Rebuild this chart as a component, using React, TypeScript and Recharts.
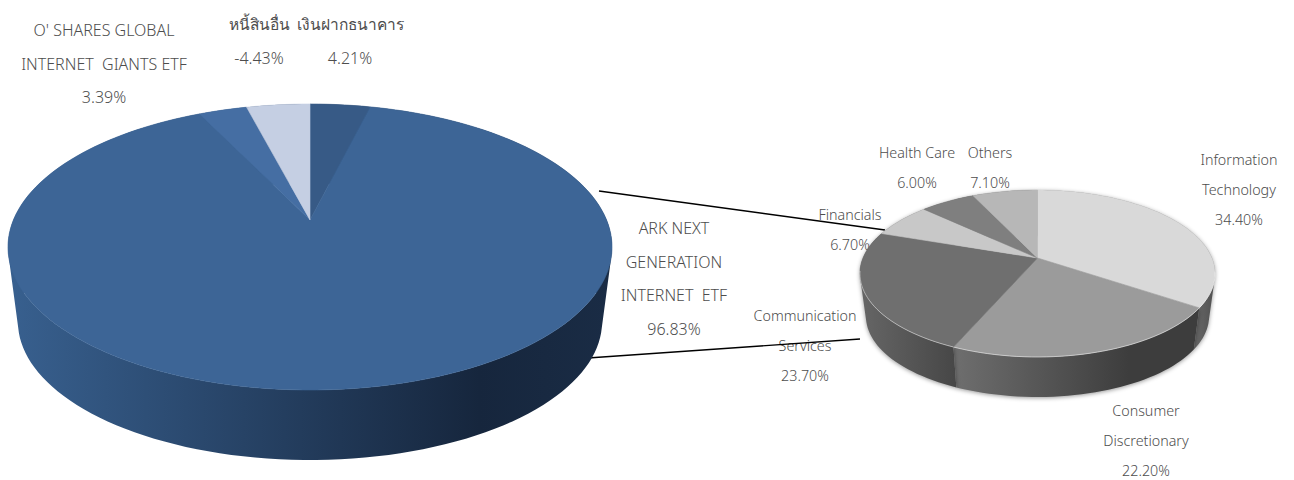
import { PieChart, Pie, Cell } from 'recharts'

// left pie, slices run clockwise from 12 o'clock
const fundNames = ['เงินฝากธนาคาร', 'ARK NEXT\nGENERATION\nINTERNET  ETF', "O' SHARES GLOBAL\nINTERNET  GIANTS ETF", 'หนี้สินอื่น']
const fundValues = [4.21, 96.83, 3.39, -4.43]

// right pie
const sectorNames = ['Information\nTechnology', 'Consumer\nDiscretionary', 'Communication\nServices', 'Financials', 'Health Care', 'Others']
const sectorValues = [34.4, 22.2, 23.7, 6.7, 6.0, 7.1]

const fundData = fundNames.map((name, i) => ({ name, value: Math.abs(fundValues[i]) }))
const sectorData = sectorNames.map((name, i) => ({ name, value: sectorValues[i] }))

const fundTop = ['#375a86', '#3d6596', '#456ea3', '#c5cfe3']
const fundWall = ['url(#fundSide)', 'url(#fundSide)', 'url(#fundSide)', 'url(#fundSide)']
const sectorTop = ['#d9d9d9', '#9b9b9b', '#6f6f6f', '#c8c8c8', '#7f7f7f', '#b7b7b7']
const sectorWall = ['url(#itSide)', 'url(#consSide)', 'url(#commSide)', '#555555', '#555555', '#555555']

// perspective of each disc: p tilts it, a/b are the half sizes at the apex
const fundGeo = { cx: 310, cy: 220, a: 296.6, b: 137.9, p: 0.1888, depth: 75.6, shrink: 0.967 }
const sectorGeo = { cx: 1037.5, cy: 258, a: 174.5, b: 80.6, p: 0.1855, depth: 43.4, shrink: 0.966 }

const fundLabels = [
  { x: 350, y: 30, gap: 34 },
  { x: 674, y: 234, gap: 33.5 },
  { x: 104, y: 36, gap: 33.5 },
  { x: 259, y: 30, gap: 34 },
]
const sectorLabels = [
  { x: 1239, y: 165, gap: 30 },
  { x: 1146, y: 416, gap: 30 },
  { x: 805, y: 321, gap: 30 },
  { x: 850, y: 220, gap: 30 },
  { x: 917, y: 158, gap: 30 },
  { x: 990, y: 158, gap: 30 },
]

type Geo = typeof fundGeo

function project(geo: Geo, deg: number, lower = false) {
  const rad = (deg * Math.PI) / 180
  const u = Math.cos(rad)
  const v = -Math.sin(rad)
  const w = 1 - geo.p * v
  const s = lower ? geo.shrink : 1
  const y0 = lower ? geo.cy + geo.depth : geo.cy
  return [geo.cx + (geo.a * s * u) / w, y0 + (geo.b * s * v) / w]
}

function arc(geo: Geo, start: number, end: number, lower = false) {
  const pts: number[][] = []
  const n = Math.max(2, Math.ceil(Math.abs(end - start) / 2))
  for (let i = 0; i <= n; i++) pts.push(project(geo, start + ((end - start) * i) / n, lower))
  return pts
}

const toPath = (pts: number[][], close = true) =>
  'M' + pts.map((p) => `${p[0].toFixed(2)},${p[1].toFixed(2)}`).join('L') + (close ? 'Z' : '')

const topShape = (geo: Geo, colors: string[], rim: boolean) => (props: any) => {
  const color = colors[props.index ?? 0]
  const outer = arc(geo, props.startAngle, props.endAngle)
  const front = outer.filter((p) => p[1] > geo.cy + 12)
  return (
    <g>
      <path d={toPath([[geo.cx, geo.cy], ...outer])} fill={color} stroke={color} strokeWidth={0.6} />
      {rim && front.length > 1 && <path d={toPath(front, false)} fill="none" stroke="rgba(255,255,255,0.45)" strokeWidth={1} />}
    </g>
  )
}

// one quad per step, all wound the same way so overlaps never cancel out
const wallShape = (geo: Geo, colors: string[], shadow: boolean) => (props: any) => {
  const up = arc(geo, props.startAngle, props.endAngle)
  const low = arc(geo, props.startAngle, props.endAngle, true)
  let d = ''
  for (let i = 0; i < up.length - 1; i++) {
    const quad = [up[i], up[i + 1], low[i + 1], low[i]]
    let area = 0
    quad.forEach((p, k) => {
      const q = quad[(k + 1) % 4]
      area += p[0] * q[1] - q[0] * p[1]
    })
    d += toPath(area < 0 ? quad.reverse() : quad)
  }
  return (
    <path
      d={d}
      fill={colors[props.index ?? 0]}
      style={shadow ? { filter: 'drop-shadow(0 1px 2px rgba(0,0,0,0.4))' } : undefined}
    />
  )
}

// Thai has no light cut here, it comes out bold at weight 300
const isThai = (s: string) => /[\u0E00-\u0E7F]/.test(s)

function Labels({ names, values, spots, size }: { names: string[]; values: number[]; spots: typeof fundLabels; size: number }) {
  return (
    <g fontFamily="'Noto Sans', sans-serif" fontSize={size} fontWeight={300} fill="#4d4d4d" textAnchor="middle">
      {names.map((name, i) => {
        const lines = [...name.split('\n'), `${values[i].toFixed(2)}%`]
        return lines.map((line, j) => (
          <text
            key={`${i}-${j}`}
            x={spots[i].x}
            y={spots[i].y + j * spots[i].gap}
            fontWeight={isThai(line) ? 400 : 300}
            fontSize={isThai(line) ? 15.5 : size}
            style={{ whiteSpace: 'pre' }}
          >
            {line}
          </text>
        ))
      })}
    </g>
  )
}

export default function App() {
  return (
    <div style={{ position: 'absolute', left: 0, top: 0, width: 1294, height: 480, background: '#fff' }}>
      <PieChart width={1294} height={480} margin={{ top: 0, right: 0, bottom: 0, left: 0 }}>
        <defs>
          <linearGradient id="fundSide" gradientUnits="userSpaceOnUse" x1="8" y1="0" x2="612" y2="0">
            <stop offset="0" stopColor="#38608f" />
            <stop offset="0.78" stopColor="#16263d" />
            <stop offset="1" stopColor="#1a2c45" />
          </linearGradient>
          <linearGradient id="itSide" gradientUnits="userSpaceOnUse" x1="1197" y1="0" x2="1215" y2="0">
            <stop offset="0" stopColor="#666666" />
            <stop offset="1" stopColor="#505050" />
          </linearGradient>
          <linearGradient id="consSide" gradientUnits="userSpaceOnUse" x1="955" y1="0" x2="1197" y2="0">
            <stop offset="0" stopColor="#6e6e6e" />
            <stop offset="0.72" stopColor="#3d3d3d" />
            <stop offset="1" stopColor="#3d3d3d" />
          </linearGradient>
          <linearGradient id="commSide" gradientUnits="userSpaceOnUse" x1="860" y1="0" x2="955" y2="0">
            <stop offset="0" stopColor="#666666" />
            <stop offset="1" stopColor="#474747" />
          </linearGradient>
        </defs>

        <Pie data={fundData} dataKey="value" cx={fundGeo.cx} cy={fundGeo.cy} outerRadius={fundGeo.a} startAngle={90} endAngle={-270}
          stroke="none" isAnimationActive={false} shape={wallShape(fundGeo, fundWall, false)}>
          {fundData.map((d) => <Cell key={d.name} />)}
        </Pie>
        <Pie data={fundData} dataKey="value" cx={fundGeo.cx} cy={fundGeo.cy} outerRadius={fundGeo.a} startAngle={90} endAngle={-270}
          stroke="none" isAnimationActive={false} shape={topShape(fundGeo, fundTop, false)} />

        <Pie data={sectorData} dataKey="value" cx={sectorGeo.cx} cy={sectorGeo.cy} outerRadius={sectorGeo.a} startAngle={90} endAngle={-270}
          stroke="none" isAnimationActive={false} shape={wallShape(sectorGeo, sectorWall, true)} />
        <Pie data={sectorData} dataKey="value" cx={sectorGeo.cx} cy={sectorGeo.cy} outerRadius={sectorGeo.a} startAngle={90} endAngle={-270}
          stroke="none" isAnimationActive={false} shape={topShape(sectorGeo, sectorTop, true)} />

        <Labels names={fundNames} values={fundValues} spots={fundLabels} size={16} />
        <Labels names={sectorNames} values={sectorValues} spots={sectorLabels} size={14.3} />

        {/* connector lines from the big slice to the breakdown */}
        <line x1={599} y1={191} x2={885} y2={230} stroke="#000" strokeWidth={1.4} />
        <line x1={588} y1={358} x2={860} y2={339} stroke="#000" strokeWidth={1.4} />
      </PieChart>
    </div>
  )
}
